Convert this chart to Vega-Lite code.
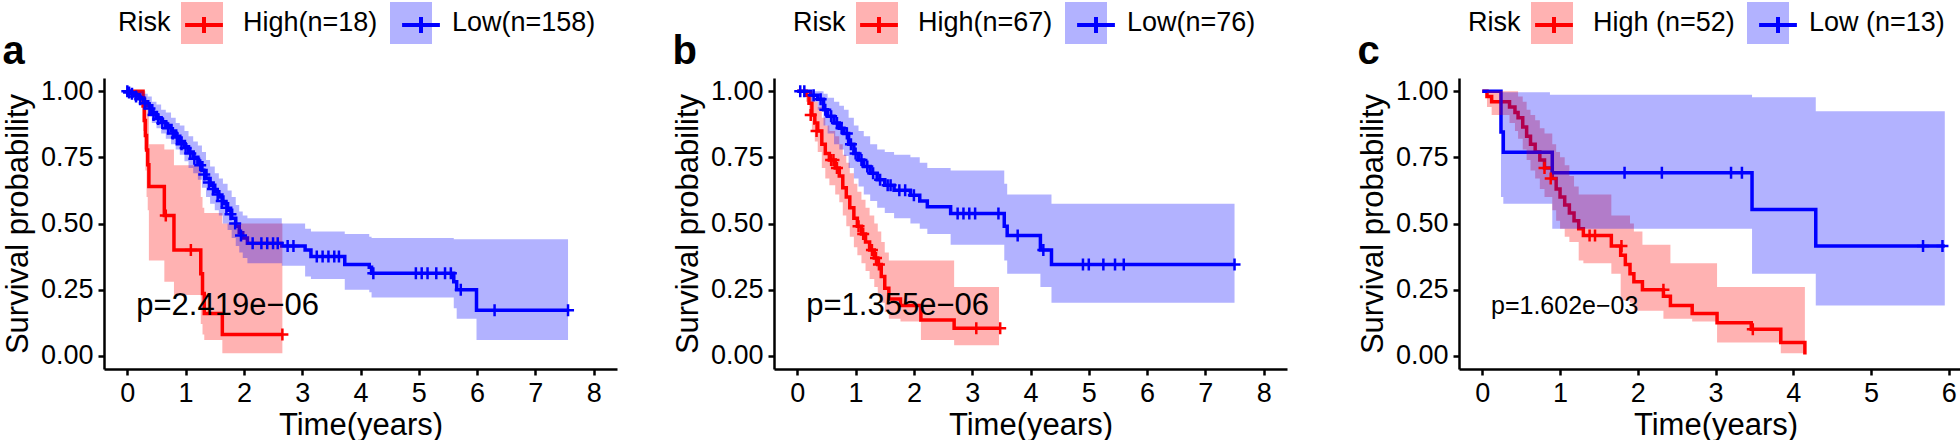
{
  "$schema": "https://vega.github.io/schema/vega-lite/v6.json",
  "padding": {"left": 2, "top": 2, "right": 0, "bottom": 0},
  "background": "white",
  "datasets": {
    "ca": [
      {"g": "High(n=18)", "t": 0, "s": 1, "lo": 1, "hi": 1},
      {"g": "High(n=18)", "t": 0.27, "s": 0.944, "lo": 0.85, "hi": 1},
      {"g": "High(n=18)", "t": 0.29, "s": 0.889, "lo": 0.78, "hi": 1},
      {"g": "High(n=18)", "t": 0.31, "s": 0.833, "lo": 0.7, "hi": 0.98},
      {"g": "High(n=18)", "t": 0.33, "s": 0.778, "lo": 0.6, "hi": 0.95},
      {"g": "High(n=18)", "t": 0.35, "s": 0.722, "lo": 0.55, "hi": 0.92},
      {"g": "High(n=18)", "t": 0.37, "s": 0.64, "lo": 0.36, "hi": 0.8},
      {"g": "High(n=18)", "t": 0.635, "s": 0.53, "lo": 0.28, "hi": 0.78},
      {"g": "High(n=18)", "t": 0.8, "s": 0.4, "lo": 0.23, "hi": 0.72},
      {"g": "High(n=18)", "t": 1.26, "s": 0.31, "lo": 0.12, "hi": 0.6},
      {"g": "High(n=18)", "t": 1.29, "s": 0.235, "lo": 0.08, "hi": 0.56},
      {"g": "High(n=18)", "t": 1.32, "s": 0.16, "lo": 0.06, "hi": 0.54},
      {"g": "High(n=18)", "t": 1.63, "s": 0.08, "lo": 0.01, "hi": 0.5},
      {"g": "High(n=18)", "t": 2.66, "s": 0.08, "lo": 0.01, "hi": 0.5},
      {"g": "Low(n=158)", "t": 0, "s": 1, "lo": 1, "hi": 1},
      {"g": "Low(n=158)", "t": 0.05, "s": 0.994, "lo": 0.98, "hi": 1},
      {"g": "Low(n=158)", "t": 0.12, "s": 0.987, "lo": 0.97, "hi": 1},
      {"g": "Low(n=158)", "t": 0.2, "s": 0.975, "lo": 0.95, "hi": 1},
      {"g": "Low(n=158)", "t": 0.28, "s": 0.96, "lo": 0.93, "hi": 0.99},
      {"g": "Low(n=158)", "t": 0.35, "s": 0.945, "lo": 0.91, "hi": 0.98},
      {"g": "Low(n=158)", "t": 0.42, "s": 0.92, "lo": 0.88, "hi": 0.96},
      {"g": "Low(n=158)", "t": 0.5, "s": 0.9, "lo": 0.86, "hi": 0.95},
      {"g": "Low(n=158)", "t": 0.58, "s": 0.885, "lo": 0.84, "hi": 0.93},
      {"g": "Low(n=158)", "t": 0.66, "s": 0.87, "lo": 0.82, "hi": 0.92},
      {"g": "Low(n=158)", "t": 0.75, "s": 0.85, "lo": 0.8, "hi": 0.9},
      {"g": "Low(n=158)", "t": 0.83, "s": 0.83, "lo": 0.78, "hi": 0.88},
      {"g": "Low(n=158)", "t": 0.9, "s": 0.81, "lo": 0.76, "hi": 0.87},
      {"g": "Low(n=158)", "t": 0.98, "s": 0.79, "lo": 0.735, "hi": 0.85},
      {"g": "Low(n=158)", "t": 1.05, "s": 0.77, "lo": 0.71, "hi": 0.83},
      {"g": "Low(n=158)", "t": 1.13, "s": 0.75, "lo": 0.69, "hi": 0.81},
      {"g": "Low(n=158)", "t": 1.21, "s": 0.73, "lo": 0.665, "hi": 0.795},
      {"g": "Low(n=158)", "t": 1.28, "s": 0.7, "lo": 0.635, "hi": 0.77},
      {"g": "Low(n=158)", "t": 1.35, "s": 0.67, "lo": 0.6, "hi": 0.74},
      {"g": "Low(n=158)", "t": 1.42, "s": 0.645, "lo": 0.575, "hi": 0.715},
      {"g": "Low(n=158)", "t": 1.5, "s": 0.62, "lo": 0.55, "hi": 0.69},
      {"g": "Low(n=158)", "t": 1.57, "s": 0.6, "lo": 0.53, "hi": 0.67},
      {"g": "Low(n=158)", "t": 1.64, "s": 0.575, "lo": 0.5, "hi": 0.65},
      {"g": "Low(n=158)", "t": 1.72, "s": 0.55, "lo": 0.475, "hi": 0.625},
      {"g": "Low(n=158)", "t": 1.79, "s": 0.52, "lo": 0.445, "hi": 0.6},
      {"g": "Low(n=158)", "t": 1.86, "s": 0.49, "lo": 0.415, "hi": 0.57},
      {"g": "Low(n=158)", "t": 1.92, "s": 0.465, "lo": 0.39, "hi": 0.545},
      {"g": "Low(n=158)", "t": 1.98, "s": 0.445, "lo": 0.37, "hi": 0.53},
      {"g": "Low(n=158)", "t": 2.06, "s": 0.425, "lo": 0.35, "hi": 0.52},
      {"g": "Low(n=158)", "t": 2.65, "s": 0.415, "lo": 0.34, "hi": 0.5},
      {"g": "Low(n=158)", "t": 3.05, "s": 0.4, "lo": 0.3, "hi": 0.48},
      {"g": "Low(n=158)", "t": 3.15, "s": 0.375, "lo": 0.29, "hi": 0.47},
      {"g": "Low(n=158)", "t": 3.73, "s": 0.345, "lo": 0.25, "hi": 0.46},
      {"g": "Low(n=158)", "t": 4.15, "s": 0.335, "lo": 0.24, "hi": 0.45},
      {"g": "Low(n=158)", "t": 4.19, "s": 0.312, "lo": 0.22, "hi": 0.445},
      {"g": "Low(n=158)", "t": 5.6, "s": 0.28, "lo": 0.18, "hi": 0.44},
      {"g": "Low(n=158)", "t": 5.65, "s": 0.25, "lo": 0.14, "hi": 0.44},
      {"g": "Low(n=158)", "t": 5.99, "s": 0.172, "lo": 0.06, "hi": 0.44},
      {"g": "Low(n=158)", "t": 7.56, "s": 0.172, "lo": 0.06, "hi": 0.44}
    ],
    "ea": [
      {"g": "High(n=18)", "t": 0.66, "s": 0.53},
      {"g": "High(n=18)", "t": 1.09, "s": 0.4},
      {"g": "High(n=18)", "t": 2.66, "s": 0.08},
      {"g": "Low(n=158)", "t": 0.0, "s": 1},
      {"g": "Low(n=158)", "t": 0.03, "s": 0.995},
      {"g": "Low(n=158)", "t": 0.08, "s": 0.99},
      {"g": "Low(n=158)", "t": 0.15, "s": 0.98},
      {"g": "Low(n=158)", "t": 0.22, "s": 0.97},
      {"g": "Low(n=158)", "t": 0.3, "s": 0.955},
      {"g": "Low(n=158)", "t": 0.38, "s": 0.935},
      {"g": "Low(n=158)", "t": 0.45, "s": 0.91},
      {"g": "Low(n=158)", "t": 0.53, "s": 0.895},
      {"g": "Low(n=158)", "t": 0.6, "s": 0.88},
      {"g": "Low(n=158)", "t": 0.7, "s": 0.86},
      {"g": "Low(n=158)", "t": 0.78, "s": 0.84},
      {"g": "Low(n=158)", "t": 0.85, "s": 0.825},
      {"g": "Low(n=158)", "t": 0.93, "s": 0.8},
      {"g": "Low(n=158)", "t": 1.0, "s": 0.785},
      {"g": "Low(n=158)", "t": 1.08, "s": 0.765},
      {"g": "Low(n=158)", "t": 1.15, "s": 0.745},
      {"g": "Low(n=158)", "t": 1.25, "s": 0.72},
      {"g": "Low(n=158)", "t": 1.32, "s": 0.685},
      {"g": "Low(n=158)", "t": 1.4, "s": 0.655},
      {"g": "Low(n=158)", "t": 1.47, "s": 0.63},
      {"g": "Low(n=158)", "t": 1.55, "s": 0.61},
      {"g": "Low(n=158)", "t": 1.62, "s": 0.585},
      {"g": "Low(n=158)", "t": 1.7, "s": 0.56},
      {"g": "Low(n=158)", "t": 1.77, "s": 0.535},
      {"g": "Low(n=158)", "t": 1.85, "s": 0.5},
      {"g": "Low(n=158)", "t": 1.95, "s": 0.455},
      {"g": "Low(n=158)", "t": 2.15, "s": 0.425},
      {"g": "Low(n=158)", "t": 2.3, "s": 0.425},
      {"g": "Low(n=158)", "t": 2.4, "s": 0.425},
      {"g": "Low(n=158)", "t": 2.5, "s": 0.425},
      {"g": "Low(n=158)", "t": 2.58, "s": 0.425},
      {"g": "Low(n=158)", "t": 2.75, "s": 0.415},
      {"g": "Low(n=158)", "t": 2.85, "s": 0.415},
      {"g": "Low(n=158)", "t": 3.25, "s": 0.375},
      {"g": "Low(n=158)", "t": 3.35, "s": 0.375},
      {"g": "Low(n=158)", "t": 3.45, "s": 0.375},
      {"g": "Low(n=158)", "t": 3.55, "s": 0.375},
      {"g": "Low(n=158)", "t": 3.63, "s": 0.375},
      {"g": "Low(n=158)", "t": 4.22, "s": 0.312},
      {"g": "Low(n=158)", "t": 4.95, "s": 0.312},
      {"g": "Low(n=158)", "t": 5.05, "s": 0.312},
      {"g": "Low(n=158)", "t": 5.15, "s": 0.312},
      {"g": "Low(n=158)", "t": 5.3, "s": 0.312},
      {"g": "Low(n=158)", "t": 5.45, "s": 0.312},
      {"g": "Low(n=158)", "t": 5.55, "s": 0.312},
      {"g": "Low(n=158)", "t": 5.72, "s": 0.25},
      {"g": "Low(n=158)", "t": 6.3, "s": 0.172},
      {"g": "Low(n=158)", "t": 7.56, "s": 0.172}
    ],
    "pa": [{"t": 1.72, "s": 0.19, "label": "p=2.419e−06"}],
    "cb": [
      {"g": "High(n=67)", "t": 0, "s": 1, "lo": 1, "hi": 1},
      {"g": "High(n=67)", "t": 0.15, "s": 0.985, "lo": 0.96, "hi": 1},
      {"g": "High(n=67)", "t": 0.2, "s": 0.955, "lo": 0.91, "hi": 1},
      {"g": "High(n=67)", "t": 0.25, "s": 0.91, "lo": 0.85, "hi": 0.98},
      {"g": "High(n=67)", "t": 0.3, "s": 0.88, "lo": 0.81, "hi": 0.96},
      {"g": "High(n=67)", "t": 0.35, "s": 0.85, "lo": 0.77, "hi": 0.94},
      {"g": "High(n=67)", "t": 0.42, "s": 0.8, "lo": 0.71, "hi": 0.9},
      {"g": "High(n=67)", "t": 0.48, "s": 0.765, "lo": 0.67, "hi": 0.87},
      {"g": "High(n=67)", "t": 0.55, "s": 0.74, "lo": 0.645, "hi": 0.85},
      {"g": "High(n=67)", "t": 0.65, "s": 0.71, "lo": 0.61, "hi": 0.83},
      {"g": "High(n=67)", "t": 0.72, "s": 0.68, "lo": 0.58, "hi": 0.8},
      {"g": "High(n=67)", "t": 0.78, "s": 0.635, "lo": 0.53, "hi": 0.76},
      {"g": "High(n=67)", "t": 0.84, "s": 0.6, "lo": 0.49, "hi": 0.73},
      {"g": "High(n=67)", "t": 0.9, "s": 0.56, "lo": 0.45, "hi": 0.69},
      {"g": "High(n=67)", "t": 0.97, "s": 0.52, "lo": 0.41, "hi": 0.65},
      {"g": "High(n=67)", "t": 1.03, "s": 0.49, "lo": 0.38, "hi": 0.62},
      {"g": "High(n=67)", "t": 1.1, "s": 0.46, "lo": 0.35, "hi": 0.59},
      {"g": "High(n=67)", "t": 1.17, "s": 0.43, "lo": 0.32, "hi": 0.56},
      {"g": "High(n=67)", "t": 1.24, "s": 0.4, "lo": 0.29, "hi": 0.53},
      {"g": "High(n=67)", "t": 1.32, "s": 0.37, "lo": 0.26, "hi": 0.5},
      {"g": "High(n=67)", "t": 1.38, "s": 0.345, "lo": 0.235, "hi": 0.47},
      {"g": "High(n=67)", "t": 1.44, "s": 0.3, "lo": 0.2, "hi": 0.43},
      {"g": "High(n=67)", "t": 1.5, "s": 0.255, "lo": 0.165, "hi": 0.39},
      {"g": "High(n=67)", "t": 1.57, "s": 0.215, "lo": 0.14, "hi": 0.36},
      {"g": "High(n=67)", "t": 1.77, "s": 0.19, "lo": 0.13, "hi": 0.36},
      {"g": "High(n=67)", "t": 2.12, "s": 0.135, "lo": 0.06, "hi": 0.36},
      {"g": "High(n=67)", "t": 2.69, "s": 0.104, "lo": 0.04, "hi": 0.26},
      {"g": "High(n=67)", "t": 3.46, "s": 0.104, "lo": 0.04, "hi": 0.26},
      {"g": "Low(n=76)", "t": 0, "s": 1, "lo": 1, "hi": 1},
      {"g": "Low(n=76)", "t": 0.23, "s": 0.985, "lo": 0.96, "hi": 1},
      {"g": "Low(n=76)", "t": 0.35, "s": 0.97, "lo": 0.93, "hi": 1},
      {"g": "Low(n=76)", "t": 0.45, "s": 0.93, "lo": 0.87, "hi": 0.99},
      {"g": "Low(n=76)", "t": 0.52, "s": 0.905, "lo": 0.84, "hi": 0.975},
      {"g": "Low(n=76)", "t": 0.63, "s": 0.88, "lo": 0.8, "hi": 0.96},
      {"g": "Low(n=76)", "t": 0.72, "s": 0.86, "lo": 0.78, "hi": 0.945},
      {"g": "Low(n=76)", "t": 0.8, "s": 0.84, "lo": 0.755, "hi": 0.93},
      {"g": "Low(n=76)", "t": 0.88, "s": 0.8, "lo": 0.71, "hi": 0.9},
      {"g": "Low(n=76)", "t": 0.97, "s": 0.765, "lo": 0.67, "hi": 0.87},
      {"g": "Low(n=76)", "t": 1.05, "s": 0.74, "lo": 0.64, "hi": 0.85},
      {"g": "Low(n=76)", "t": 1.14, "s": 0.715, "lo": 0.61, "hi": 0.83},
      {"g": "Low(n=76)", "t": 1.25, "s": 0.69, "lo": 0.585, "hi": 0.8},
      {"g": "Low(n=76)", "t": 1.37, "s": 0.665, "lo": 0.56, "hi": 0.78},
      {"g": "Low(n=76)", "t": 1.5, "s": 0.645, "lo": 0.54, "hi": 0.77},
      {"g": "Low(n=76)", "t": 1.66, "s": 0.626, "lo": 0.52, "hi": 0.76},
      {"g": "Low(n=76)", "t": 1.94, "s": 0.607, "lo": 0.5, "hi": 0.75},
      {"g": "Low(n=76)", "t": 2.1, "s": 0.585, "lo": 0.48, "hi": 0.73},
      {"g": "Low(n=76)", "t": 2.23, "s": 0.563, "lo": 0.46, "hi": 0.71},
      {"g": "Low(n=76)", "t": 2.63, "s": 0.538, "lo": 0.42, "hi": 0.7},
      {"g": "Low(n=76)", "t": 3.55, "s": 0.49, "lo": 0.36, "hi": 0.65},
      {"g": "Low(n=76)", "t": 3.6, "s": 0.455, "lo": 0.31, "hi": 0.61},
      {"g": "Low(n=76)", "t": 4.17, "s": 0.4, "lo": 0.26, "hi": 0.61},
      {"g": "Low(n=76)", "t": 4.36, "s": 0.345, "lo": 0.2, "hi": 0.575},
      {"g": "Low(n=76)", "t": 7.5, "s": 0.345, "lo": 0.2, "hi": 0.575}
    ],
    "eb": [
      {"g": "High(n=67)", "t": 0.23, "s": 0.91},
      {"g": "High(n=67)", "t": 0.33, "s": 0.85},
      {"g": "High(n=67)", "t": 0.58, "s": 0.74},
      {"g": "High(n=67)", "t": 0.62, "s": 0.74},
      {"g": "High(n=67)", "t": 0.68, "s": 0.71},
      {"g": "High(n=67)", "t": 1.05, "s": 0.49},
      {"g": "High(n=67)", "t": 1.13, "s": 0.46},
      {"g": "High(n=67)", "t": 1.28, "s": 0.4},
      {"g": "High(n=67)", "t": 1.35, "s": 0.37},
      {"g": "High(n=67)", "t": 1.4, "s": 0.345},
      {"g": "High(n=67)", "t": 3.07, "s": 0.104},
      {"g": "High(n=67)", "t": 3.48, "s": 0.104},
      {"g": "Low(n=76)", "t": 0.05, "s": 1},
      {"g": "Low(n=76)", "t": 0.12, "s": 1},
      {"g": "Low(n=76)", "t": 0.28, "s": 0.985},
      {"g": "Low(n=76)", "t": 0.4, "s": 0.97},
      {"g": "Low(n=76)", "t": 0.48, "s": 0.93},
      {"g": "Low(n=76)", "t": 0.58, "s": 0.905},
      {"g": "Low(n=76)", "t": 0.68, "s": 0.88},
      {"g": "Low(n=76)", "t": 0.76, "s": 0.86},
      {"g": "Low(n=76)", "t": 0.85, "s": 0.84},
      {"g": "Low(n=76)", "t": 0.92, "s": 0.8},
      {"g": "Low(n=76)", "t": 1.0, "s": 0.765},
      {"g": "Low(n=76)", "t": 1.1, "s": 0.74},
      {"g": "Low(n=76)", "t": 1.2, "s": 0.715},
      {"g": "Low(n=76)", "t": 1.3, "s": 0.69},
      {"g": "Low(n=76)", "t": 1.42, "s": 0.665},
      {"g": "Low(n=76)", "t": 1.55, "s": 0.645},
      {"g": "Low(n=76)", "t": 1.6, "s": 0.645},
      {"g": "Low(n=76)", "t": 1.75, "s": 0.626},
      {"g": "Low(n=76)", "t": 1.85, "s": 0.626},
      {"g": "Low(n=76)", "t": 2.0, "s": 0.607},
      {"g": "Low(n=76)", "t": 2.75, "s": 0.538},
      {"g": "Low(n=76)", "t": 2.85, "s": 0.538},
      {"g": "Low(n=76)", "t": 2.95, "s": 0.538},
      {"g": "Low(n=76)", "t": 3.05, "s": 0.538},
      {"g": "Low(n=76)", "t": 3.45, "s": 0.538},
      {"g": "Low(n=76)", "t": 3.78, "s": 0.455},
      {"g": "Low(n=76)", "t": 4.22, "s": 0.4},
      {"g": "Low(n=76)", "t": 4.9, "s": 0.345},
      {"g": "Low(n=76)", "t": 5.0, "s": 0.345},
      {"g": "Low(n=76)", "t": 5.25, "s": 0.345},
      {"g": "Low(n=76)", "t": 5.45, "s": 0.345},
      {"g": "Low(n=76)", "t": 5.6, "s": 0.345},
      {"g": "Low(n=76)", "t": 7.5, "s": 0.345}
    ],
    "pb": [{"t": 1.72, "s": 0.19, "label": "p=1.355e−06"}],
    "cc": [
      {"g": "High (n=52)", "t": 0, "s": 1, "lo": 1, "hi": 1},
      {"g": "High (n=52)", "t": 0.06, "s": 0.98, "lo": 0.94, "hi": 1},
      {"g": "High (n=52)", "t": 0.12, "s": 0.96, "lo": 0.91, "hi": 1},
      {"g": "High (n=52)", "t": 0.35, "s": 0.94, "lo": 0.88, "hi": 1},
      {"g": "High (n=52)", "t": 0.42, "s": 0.92, "lo": 0.85, "hi": 1},
      {"g": "High (n=52)", "t": 0.46, "s": 0.9, "lo": 0.82, "hi": 0.98},
      {"g": "High (n=52)", "t": 0.52, "s": 0.865, "lo": 0.78, "hi": 0.96},
      {"g": "High (n=52)", "t": 0.57, "s": 0.83, "lo": 0.74, "hi": 0.93},
      {"g": "High (n=52)", "t": 0.62, "s": 0.8, "lo": 0.7, "hi": 0.91},
      {"g": "High (n=52)", "t": 0.68, "s": 0.77, "lo": 0.67, "hi": 0.89},
      {"g": "High (n=52)", "t": 0.74, "s": 0.74, "lo": 0.63, "hi": 0.86},
      {"g": "High (n=52)", "t": 0.8, "s": 0.71, "lo": 0.6, "hi": 0.84},
      {"g": "High (n=52)", "t": 0.9, "s": 0.67, "lo": 0.55, "hi": 0.8},
      {"g": "High (n=52)", "t": 0.95, "s": 0.63, "lo": 0.51, "hi": 0.77},
      {"g": "High (n=52)", "t": 1.0, "s": 0.6, "lo": 0.48, "hi": 0.75},
      {"g": "High (n=52)", "t": 1.06, "s": 0.57, "lo": 0.45, "hi": 0.72},
      {"g": "High (n=52)", "t": 1.12, "s": 0.54, "lo": 0.43, "hi": 0.68},
      {"g": "High (n=52)", "t": 1.18, "s": 0.51, "lo": 0.43, "hi": 0.64},
      {"g": "High (n=52)", "t": 1.24, "s": 0.48, "lo": 0.36, "hi": 0.61},
      {"g": "High (n=52)", "t": 1.3, "s": 0.455, "lo": 0.35, "hi": 0.61},
      {"g": "High (n=52)", "t": 1.66, "s": 0.415, "lo": 0.31, "hi": 0.53},
      {"g": "High (n=52)", "t": 1.78, "s": 0.38, "lo": 0.21, "hi": 0.53},
      {"g": "High (n=52)", "t": 1.84, "s": 0.345, "lo": 0.21, "hi": 0.53},
      {"g": "High (n=52)", "t": 1.9, "s": 0.31, "lo": 0.2, "hi": 0.5},
      {"g": "High (n=52)", "t": 1.95, "s": 0.28, "lo": 0.17, "hi": 0.47},
      {"g": "High (n=52)", "t": 2.06, "s": 0.25, "lo": 0.17, "hi": 0.42},
      {"g": "High (n=52)", "t": 2.33, "s": 0.225, "lo": 0.14, "hi": 0.42},
      {"g": "High (n=52)", "t": 2.42, "s": 0.19, "lo": 0.14, "hi": 0.35},
      {"g": "High (n=52)", "t": 2.7, "s": 0.16, "lo": 0.13, "hi": 0.35},
      {"g": "High (n=52)", "t": 3.02, "s": 0.125, "lo": 0.05, "hi": 0.26},
      {"g": "High (n=52)", "t": 3.46, "s": 0.1, "lo": 0.05, "hi": 0.26},
      {"g": "High (n=52)", "t": 3.84, "s": 0.05, "lo": 0.01, "hi": 0.26},
      {"g": "High (n=52)", "t": 4.15, "s": 0.005, "lo": 0.005, "hi": 0.005},
      {"g": "Low (n=13)", "t": 0, "s": 1, "lo": 1, "hi": 1},
      {"g": "Low (n=13)", "t": 0.24, "s": 0.846, "lo": 0.6, "hi": 0.996},
      {"g": "Low (n=13)", "t": 0.27, "s": 0.769, "lo": 0.575, "hi": 0.996},
      {"g": "Low (n=13)", "t": 0.87, "s": 0.769, "lo": 0.575, "hi": 0.987},
      {"g": "Low (n=13)", "t": 0.9, "s": 0.692, "lo": 0.48, "hi": 0.987},
      {"g": "Low (n=13)", "t": 3.47, "s": 0.553, "lo": 0.31, "hi": 0.977},
      {"g": "Low (n=13)", "t": 4.29, "s": 0.415, "lo": 0.19, "hi": 0.924},
      {"g": "Low (n=13)", "t": 5.95, "s": 0.415, "lo": 0.19, "hi": 0.924}
    ],
    "ec": [
      {"g": "High (n=52)", "t": 0.8, "s": 0.71},
      {"g": "High (n=52)", "t": 0.88, "s": 0.67},
      {"g": "High (n=52)", "t": 1.38, "s": 0.455},
      {"g": "High (n=52)", "t": 1.45, "s": 0.455},
      {"g": "High (n=52)", "t": 1.79, "s": 0.415},
      {"g": "High (n=52)", "t": 2.33, "s": 0.25},
      {"g": "High (n=52)", "t": 3.48, "s": 0.1},
      {"g": "Low (n=13)", "t": 1.83, "s": 0.692},
      {"g": "Low (n=13)", "t": 2.31, "s": 0.692},
      {"g": "Low (n=13)", "t": 3.2, "s": 0.692},
      {"g": "Low (n=13)", "t": 3.34, "s": 0.692},
      {"g": "Low (n=13)", "t": 5.67, "s": 0.415},
      {"g": "Low (n=13)", "t": 5.92, "s": 0.415}
    ],
    "pc": [{"t": 1.06, "s": 0.19, "label": "p=1.602e−03"}]
  },
  "hconcat": [
    {
      "hconcat": [
        {
          "width": 513, "height": 291,
          "title": {"text": "a", "offset": -70},
          "encoding": {
            "x": {"field": "t", "type": "quantitative", "title": "Time(years)", "scale": {"domain": [-0.4, 8.4], "nice": false, "zero": false}, "axis": {"values": [0, 1, 2, 3, 4, 5, 6, 7, 8]}},
            "y": {"field": "s", "type": "quantitative", "title": "Survival probability", "scale": {"domain": [-0.05, 1.05], "nice": false, "zero": false}, "axis": {"values": [0, 0.25, 0.5, 0.75, 1], "format": ".2f"}}
          },
          "layer": [
            {"data": {"name": "ca"}, "mark": {"type": "line", "interpolate": "step-after", "strokeWidth": 3.5},
             "encoding": {"stroke": {"field": "g", "type": "nominal", "scale": {"domain": ["High(n=18)", "Low(n=158)"], "range": ["#FF0000", "#0000FF"]},
               "legend": {"title": "Risk", "orient": "none", "legendX": 14, "legendY": -76, "symbolType": "M-0.9,0H0.9M0,-0.38V0.38", "symbolStrokeWidth": 4, "labelOpacity": 0, "titleOpacity": 0}}}},
            {"data": {"name": "ca"}, "mark": {"type": "area", "interpolate": "step-after", "opacity": 0.3},
             "encoding": {"y": {"field": "lo", "type": "quantitative", "title": "Survival probability", "scale": {"domain": [-0.05, 1.05], "nice": false, "zero": false}}, "y2": {"field": "hi"},
               "fill": {"field": "g", "type": "nominal", "scale": {"range": ["#FF0000", "#0000FF"]},
               "legend": {"title": "Risk", "orient": "none", "legendX": 14, "legendY": -76, "symbolType": "square", "symbolStrokeWidth": 0, "symbolOpacity": 0.3}}}},
            {"data": {"name": "ea"}, "mark": {"type": "point", "shape": "M-1,0H1M0,-1V1", "size": 144, "strokeWidth": 2.5, "filled": false, "opacity": 1},
             "encoding": {"stroke": {"field": "g", "type": "nominal"}}},
            {"data": {"name": "pa"}, "mark": {"type": "text", "fontSize": 31, "align": "center", "baseline": "middle", "color": "black"},
             "encoding": {"text": {"field": "label"}}}
          ]
        },
        {
          "width": 513, "height": 291,
          "title": {"text": "b", "offset": -70},
          "encoding": {
            "x": {"field": "t", "type": "quantitative", "title": "Time(years)", "scale": {"domain": [-0.4, 8.4], "nice": false, "zero": false}, "axis": {"values": [0, 1, 2, 3, 4, 5, 6, 7, 8]}},
            "y": {"field": "s", "type": "quantitative", "title": "Survival probability", "scale": {"domain": [-0.05, 1.05], "nice": false, "zero": false}, "axis": {"values": [0, 0.25, 0.5, 0.75, 1], "format": ".2f"}}
          },
          "layer": [
            {"data": {"name": "cb"}, "mark": {"type": "line", "interpolate": "step-after", "strokeWidth": 3.5},
             "encoding": {"stroke": {"field": "g", "type": "nominal", "scale": {"domain": ["High(n=67)", "Low(n=76)"], "range": ["#FF0000", "#0000FF"]},
               "legend": {"title": "Risk", "orient": "none", "legendX": 19, "legendY": -76, "symbolType": "M-0.9,0H0.9M0,-0.38V0.38", "symbolStrokeWidth": 4, "labelOpacity": 0, "titleOpacity": 0}}}},
            {"data": {"name": "cb"}, "mark": {"type": "area", "interpolate": "step-after", "opacity": 0.3},
             "encoding": {"y": {"field": "lo", "type": "quantitative", "title": "Survival probability", "scale": {"domain": [-0.05, 1.05], "nice": false, "zero": false}}, "y2": {"field": "hi"},
               "fill": {"field": "g", "type": "nominal", "scale": {"range": ["#FF0000", "#0000FF"]},
               "legend": {"title": "Risk", "orient": "none", "legendX": 19, "legendY": -76, "symbolType": "square", "symbolStrokeWidth": 0, "symbolOpacity": 0.3}}}},
            {"data": {"name": "eb"}, "mark": {"type": "point", "shape": "M-1,0H1M0,-1V1", "size": 144, "strokeWidth": 2.5, "filled": false, "opacity": 1},
             "encoding": {"stroke": {"field": "g", "type": "nominal"}}},
            {"data": {"name": "pb"}, "mark": {"type": "text", "fontSize": 31, "align": "center", "baseline": "middle", "color": "black"},
             "encoding": {"text": {"field": "label"}}}
          ]
        }
      ],
      "spacing": 55,
      "resolve": {"scale": {"fill": "independent", "stroke": "independent", "x": "independent", "y": "independent"}, "legend": {"fill": "independent", "stroke": "independent"}}
    },
    {
      "width": 513, "height": 291,
      "title": {"text": "c", "offset": -70},
      "encoding": {
        "x": {"field": "t", "type": "quantitative", "title": "Time(years)", "scale": {"domain": [-0.3, 6.3], "nice": false, "zero": false}, "axis": {"values": [0, 1, 2, 3, 4, 5, 6]}},
        "y": {"field": "s", "type": "quantitative", "title": "Survival probability", "scale": {"domain": [-0.05, 1.05], "nice": false, "zero": false}, "axis": {"values": [0, 0.25, 0.5, 0.75, 1], "format": ".2f"}}
      },
      "layer": [
        {"data": {"name": "cc"}, "mark": {"type": "line", "interpolate": "step-after", "strokeWidth": 3.5},
         "encoding": {"stroke": {"field": "g", "type": "nominal", "scale": {"domain": ["High (n=52)", "Low (n=13)"], "range": ["#FF0000", "#0000FF"]},
           "legend": {"title": "Risk", "orient": "none", "legendX": 9, "legendY": -76, "symbolType": "M-0.9,0H0.9M0,-0.38V0.38", "symbolStrokeWidth": 4, "labelOpacity": 0, "titleOpacity": 0}}}},
        {"data": {"name": "cc"}, "mark": {"type": "area", "interpolate": "step-after", "opacity": 0.3},
         "encoding": {"y": {"field": "lo", "type": "quantitative", "title": "Survival probability", "scale": {"domain": [-0.05, 1.05], "nice": false, "zero": false}}, "y2": {"field": "hi"},
           "fill": {"field": "g", "type": "nominal", "scale": {"range": ["#FF0000", "#0000FF"]},
           "legend": {"title": "Risk", "orient": "none", "legendX": 9, "legendY": -76, "symbolType": "square", "symbolStrokeWidth": 0, "symbolOpacity": 0.3}}}},
        {"data": {"name": "ec"}, "mark": {"type": "point", "shape": "M-1,0H1M0,-1V1", "size": 144, "strokeWidth": 2.5, "filled": false, "opacity": 1},
         "encoding": {"stroke": {"field": "g", "type": "nominal"}}},
        {"data": {"name": "pc"}, "mark": {"type": "text", "fontSize": 25, "align": "center", "baseline": "middle", "color": "black"},
         "encoding": {"text": {"field": "label"}}}
      ]
    }
  ],
  "spacing": 70,
  "resolve": {"scale": {"fill": "independent", "stroke": "independent", "x": "independent", "y": "independent"}, "legend": {"fill": "independent", "stroke": "independent"}},
  "config": {
    "font": "Liberation Sans",
    "view": {"stroke": null},
    "axis": {
      "grid": false, "domainColor": "black", "domainWidth": 2.5, "tickColor": "black", "tickWidth": 2.5, "tickSize": 6,
      "labelFontSize": 27, "labelColor": "black", "labelFont": "Liberation Sans", "labelPadding": 5,
      "titleFontSize": 31, "titleColor": "black", "titleFont": "Liberation Sans", "titleFontWeight": "normal",
      "labelFlush": false, "labelOverlap": false
    },
    "axisX": {"titlePadding": 4},
    "axisY": {"titlePadding": 6},
    "legend": {
      "direction": "horizontal", "titleOrient": "left", "titleFontSize": 27, "titleFontWeight": "normal", "titleColor": "black", "titleFont": "Liberation Sans",
      "titlePadding": 10, "titleBaseline": "middle", "titleAnchor": "middle",
      "labelFontSize": 27, "labelColor": "black", "labelFont": "Liberation Sans", "labelOffset": 20, "labelLimit": 300,
      "columnPadding": 12, "symbolSize": 1764, "rowPadding": 0
    },
    "title": {"fontSize": 40, "fontWeight": "bold", "color": "black", "anchor": "start", "frame": "bounds", "font": "Liberation Sans"}
  }
}
